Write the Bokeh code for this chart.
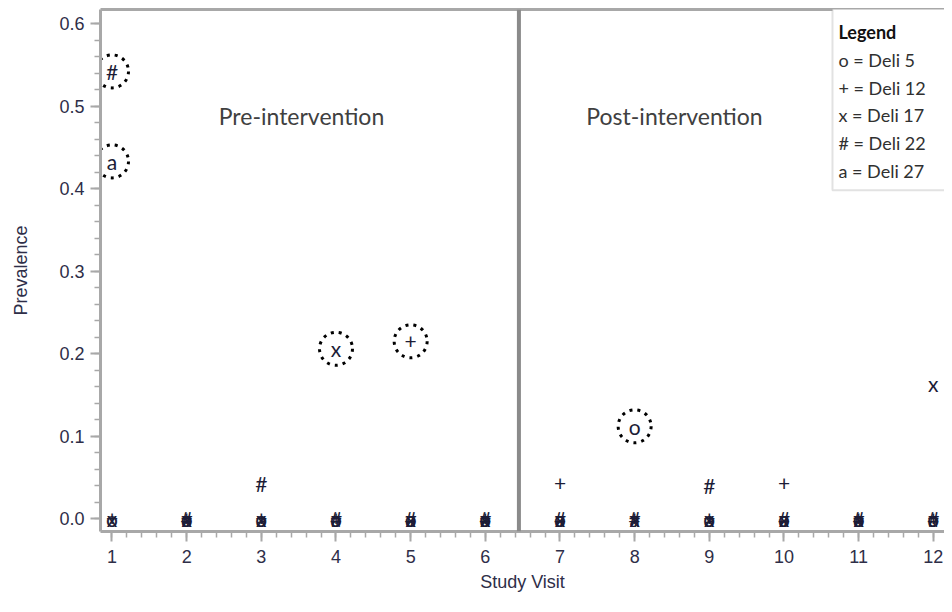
from bokeh.plotting import figure
from bokeh.models import (Span, BoxAnnotation, Label, Range1d, FixedTicker,
                          PrintfTickFormatter, ColumnDataSource, LinearAxis)
from bokeh.core.properties import value
from bokeh.embed import file_html
from bokeh.resources import INLINE

# ---------------- data ----------------
visits = [1, 2, 3, 4, 5, 6, 7, 8, 9, 10, 11, 12]
deli_symbols = ["o", "+", "x", "#", "a"]
deli_names = ["Deli 5", "Deli 12", "Deli 17", "Deli 22", "Deli 27"]
deli5 = [0, 0, 0, 0, 0, 0, 0, 0.112, 0, 0, 0, 0]
deli12 = [0, 0, 0, 0, 0.215, 0, 0.043, 0, 0, 0.043, 0, 0]
deli17 = [0, 0, 0, 0.206, 0, 0, 0, 0, 0, 0, 0, 0.164]
deli22 = [0.542, 0, 0.043, 0, 0, 0, 0, 0, 0.040, 0, 0, 0]
deli27 = [0.433, 0, 0, 0, 0, 0, 0, 0, 0, 0, 0, 0]
series = [deli5, deli12, deli17, deli22, deli27]
circled = [("Deli 22", 1), ("Deli 27", 1), ("Deli 17", 4), ("Deli 12", 5), ("Deli 5", 8)]
intervention_at = 6.45
x_ticks = visits
y_ticks = [0.0, 0.1, 0.2, 0.3, 0.4, 0.5, 0.6]

# ---------------- figure ----------------
p = figure(width=944, height=596, output_backend="svg", toolbar_location=None,
           x_range=Range1d(0.846, 12.15), y_range=Range1d(-0.0154, 0.617),
           min_border_left=100, min_border_right=0, min_border_top=9,
           min_border_bottom=65)
p.grid.visible = False
p.background_fill_color = "white"
p.border_fill_color = "white"
p.outline_line_color = None

axis_color = "#a8a8a8"
label_color = "#2e2e48"

xax = p.below[0]
yax = p.left[0]

xax.ticker = FixedTicker(ticks=x_ticks,
                         minor_ticks=[round(0.8 + 0.2 * i, 2) for i in range(0, 58)])
yax.ticker = FixedTicker(ticks=y_ticks,
                         minor_ticks=[round(-0.02 + 0.02 * i, 2) for i in range(0, 33)])
yax.formatter = PrintfTickFormatter(format="%.1f")

for ax in (xax, yax):
    ax.axis_line_color = axis_color
    ax.axis_line_width = 3
    ax.major_tick_line_color = axis_color
    ax.minor_tick_line_color = axis_color
    ax.major_tick_line_width = 2
    ax.minor_tick_line_width = 1.5
    ax.major_tick_out = 10
    ax.major_tick_in = 0
    ax.minor_tick_out = 6
    ax.minor_tick_in = 0
    ax.major_label_text_font = "Liberation Sans"
    ax.major_label_text_font_size = "18px"
    ax.major_label_text_color = label_color
    ax.axis_label_text_font = "Liberation Sans"
    ax.axis_label_text_font_size = "18px"
    ax.axis_label_text_font_style = "normal"
    ax.axis_label_text_color = label_color

xax.axis_label = "Study Visit"
yax.axis_label = "Prevalence"
xax.major_label_standoff = 8
yax.major_label_standoff = 6
xax.axis_label_standoff = 6
yax.axis_label_standoff = 25

# top frame line (no ticks, no labels)
top_axis = LinearAxis(axis_line_color=axis_color, axis_line_width=3,
                      major_tick_line_color=None, minor_tick_line_color=None,
                      major_label_text_font_size="12px",
                      major_label_text_color=None,
                      ticker=FixedTicker(ticks=[]))
p.add_layout(top_axis, "above")

# intervention divider
p.add_layout(Span(location=intervention_at, dimension="height",
                  line_color="#8a8a8a", line_width=4))

# circles around highlighted points
cx, cy = [], []
for name, v in circled:
    s = series[deli_names.index(name)]
    cx.append(v)
    cy.append(s[visits.index(v)])
p.scatter(cx, cy, marker="circle", size=33, fill_color=None,
          line_color="black", line_width=3, line_dash="3 5")

# symbol markers
xs, ys, ts = [], [], []
for sym, s in zip(deli_symbols, series):
    for v, val in zip(visits, s):
        xs.append(v)
        ys.append(val)
        ts.append(sym)
src = ColumnDataSource(dict(x=xs, y=ys, t=ts))
p.text(x="x", y="y", text="t", source=src, text_align="center",
       text_baseline="middle", text_font=value("Lato"), text_font_size="21px",
       text_color="#1c1c36")

# period labels
p.add_layout(Label(x=3.538, y=0.488, text="Pre-intervention", text_align="center",
                   text_baseline="middle", text_font="Lato", text_font_size="23px",
                   text_color="#404040"))
p.add_layout(Label(x=8.534, y=0.488, text="Post-intervention", text_align="center",
                   text_baseline="middle", text_font="Lato", text_font_size="23px",
                   text_color="#404040"))

# legend box
p.add_layout(BoxAnnotation(left=10.65, right=12.6, bottom=0.398, top=0.62,
                           fill_color="white", fill_alpha=1.0,
                           line_color="#a0a0a0", line_width=2))
p.add_layout(Label(x=10.73, y=0.5895, text="Legend", text_align="left",
                   text_baseline="middle", text_font="Lato", text_font_size="18px",
                   text_font_style="bold", text_color="#111111"))
for i, (sym, name) in enumerate(zip(deli_symbols, deli_names)):
    p.add_layout(Label(x=10.73, y=0.556 - 0.0336 * i, text=f"{sym} = {name}",
                       text_align="left", text_baseline="middle", text_font="Lato",
                       text_font_size="18px", text_color="#303030"))

open("out.html", "w").write(file_html(p, INLINE))
